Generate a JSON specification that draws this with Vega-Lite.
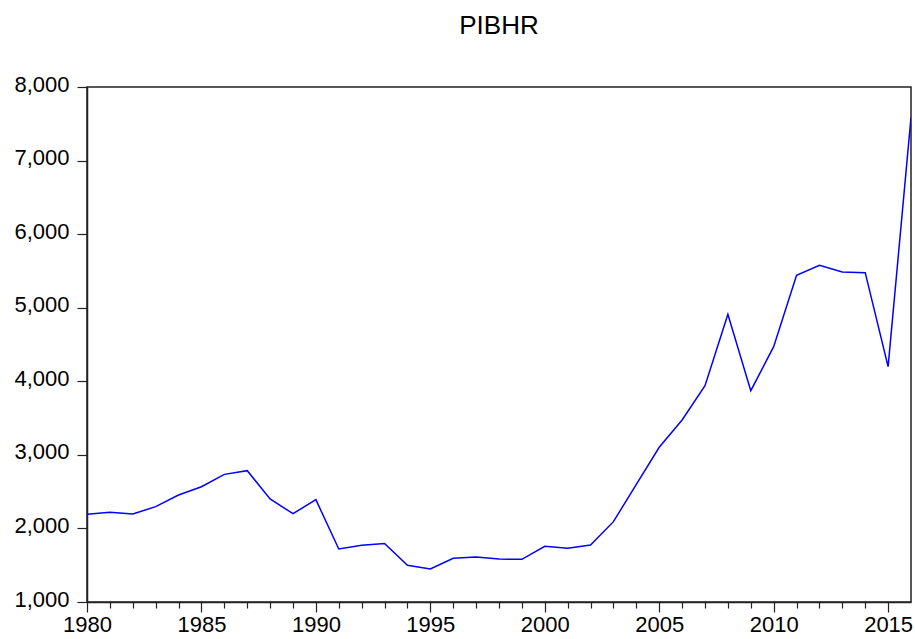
{
  "$schema": "https://vega.github.io/schema/vega-lite/v6.json",
  "autosize": "none",
  "width": 824,
  "height": 515,
  "padding": {"left": 87, "top": 87, "right": 4, "bottom": 37},
  "background": "white",
  "title": {
    "text": "PIBHR",
    "font": "Liberation Sans",
    "fontSize": 26,
    "fontWeight": "normal",
    "color": "#000",
    "anchor": "middle",
    "offset": 34
  },
  "config": {
    "view": {"stroke": "#222", "strokeWidth": 1.5},
    "axis": {
      "labelFont": "Liberation Sans",
      "labelFontSize": 22,
      "labelColor": "#000",
      "domainColor": "#222",
      "domainWidth": 1.5,
      "tickColor": "#222",
      "tickWidth": 1.2,
      "grid": false,
      "title": null
    }
  },
  "data": {
    "values": [
      {"year": 1980, "value": 2192},
      {"year": 1981, "value": 2219},
      {"year": 1982, "value": 2196},
      {"year": 1983, "value": 2296},
      {"year": 1984, "value": 2454},
      {"year": 1985, "value": 2567},
      {"year": 1986, "value": 2735},
      {"year": 1987, "value": 2785},
      {"year": 1988, "value": 2400},
      {"year": 1989, "value": 2200},
      {"year": 1990, "value": 2391},
      {"year": 1991, "value": 1720},
      {"year": 1992, "value": 1770},
      {"year": 1993, "value": 1795},
      {"year": 1994, "value": 1499},
      {"year": 1995, "value": 1449},
      {"year": 1996, "value": 1594},
      {"year": 1997, "value": 1612},
      {"year": 1998, "value": 1584},
      {"year": 1999, "value": 1580},
      {"year": 2000, "value": 1757},
      {"year": 2001, "value": 1730},
      {"year": 2002, "value": 1775},
      {"year": 2003, "value": 2092},
      {"year": 2004, "value": 2600},
      {"year": 2005, "value": 3103},
      {"year": 2006, "value": 3474},
      {"year": 2007, "value": 3940},
      {"year": 2008, "value": 4910},
      {"year": 2009, "value": 3872},
      {"year": 2010, "value": 4470},
      {"year": 2011, "value": 5441},
      {"year": 2012, "value": 5577},
      {"year": 2013, "value": 5486},
      {"year": 2014, "value": 5476},
      {"year": 2015, "value": 4199},
      {"year": 2016, "value": 7583}
    ]
  },
  "mark": {"type": "line", "color": "#0000ff", "strokeWidth": 1.5, "clip": true},
  "encoding": {
    "x": {
      "field": "year",
      "type": "quantitative",
      "scale": {"domain": [1980, 2016], "nice": false, "zero": false},
      "axis": {
        "values": [1980,1981,1982,1983,1984,1985,1986,1987,1988,1989,1990,1991,1992,1993,1994,1995,1996,1997,1998,1999,2000,2001,2002,2003,2004,2005,2006,2007,2008,2009,2010,2011,2012,2013,2014,2015],
        "labelExpr": "datum.value % 5 === 0 ? '' + datum.value : ''",
        "tickSize": {"condition": {"test": "datum.value % 5 === 0", "value": 10}, "value": 6},
        "labelPadding": 2,
        "labelFlush": false,
        "labelOverlap": false
      }
    },
    "y": {
      "field": "value",
      "type": "quantitative",
      "scale": {"domain": [1000, 8000], "nice": false, "zero": false},
      "axis": {
        "values": [1000,2000,3000,4000,5000,6000,7000,8000],
        "format": ",.0f",
        "tickSize": 10,
        "labelPadding": 8,
        "labelOffset": -3
      }
    }
  }
}
